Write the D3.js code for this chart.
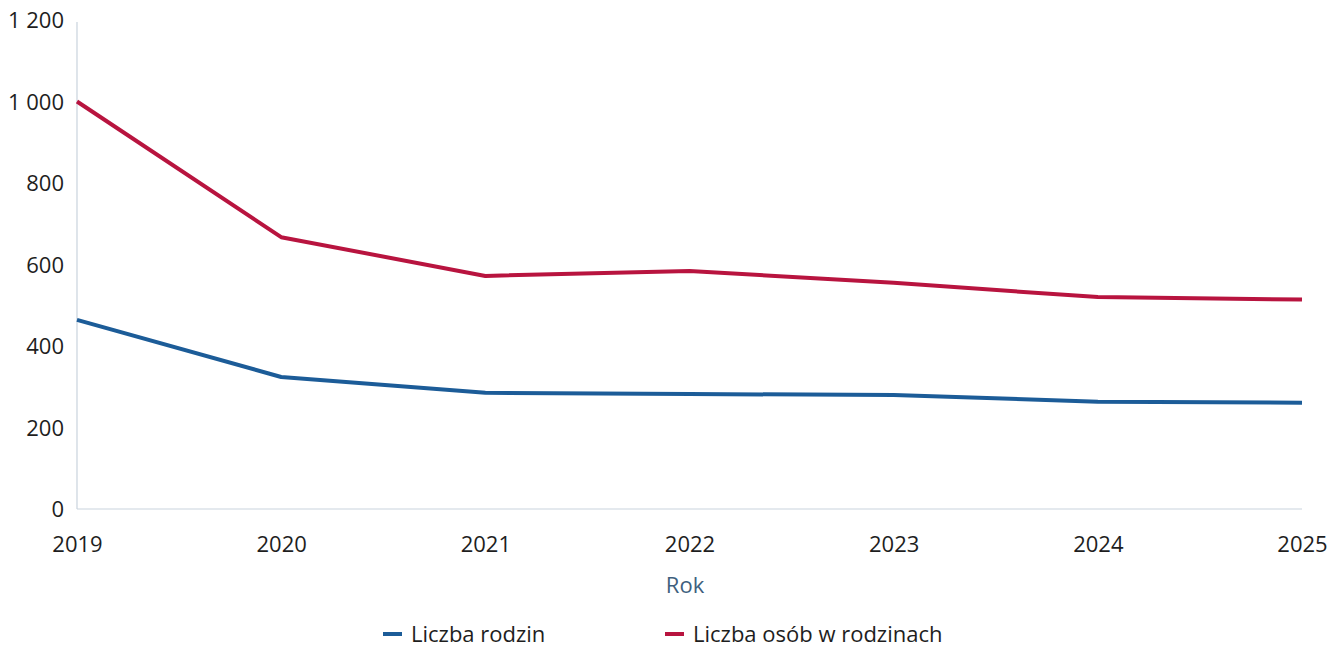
<!DOCTYPE html>
<html><head><meta charset="utf-8">
<script src="https://cdn.jsdelivr.net/npm/d3@7"></script>
<style>body{margin:0;background:#fff}svg{display:block}text{font-family:"Open Sans",sans-serif}</style>
</head><body><svg id="c" width="1339" height="651"></svg>
<script>
const years = [2019, 2020, 2021, 2022, 2023, 2024, 2025];
const rodziny = [464, 324, 285, 282, 280, 263, 261];
const osoby = [1000, 667, 572, 584, 555, 520, 514];
const yTicks = [0, 200, 400, 600, 800, 1000, 1200];
const seriesNames = ["Liczba rodzin", "Liczba osób w rodzinach"];
const colors = ["#1c5c98", "#b8143f"];

const svg = d3.select("#c");
const x = d3.scaleLinear().domain([2019, 2025]).range([77, 1302]);
const y = d3.scaleLinear().domain([0, 1200]).range([509, 20]);

// axis lines
svg.append("line").attr("x1", x(2019)).attr("x2", x(2019)).attr("y1", y(1200)+2).attr("y2", y(0))
  .attr("stroke", "#c9d3dd").attr("stroke-width", 1.2);
svg.append("line").attr("x1", x(2019)).attr("x2", x(2025)).attr("y1", y(0)).attr("y2", y(0))
  .attr("stroke", "#c9d3dd").attr("stroke-width", 1.2);

const yAxis = d3.axisLeft(y).tickValues(yTicks).tickSize(0).tickPadding(0)
  .tickFormat(v => v >= 1000 ? d3.format(",")(v).replace(",", " ") : v);
const gy = svg.append("g").attr("transform", "translate(64,0)").call(yAxis);
gy.select(".domain").remove();
gy.selectAll("text").attr("font-size", 22).attr("fill", "#1e1e1e").attr("dy", "0.35em");

const xAxis = d3.axisBottom(x).tickValues(years).tickSize(0).tickPadding(0).tickFormat(d3.format("d"));
const gx = svg.append("g").attr("transform", "translate(0,536)").call(xAxis);
gx.select(".domain").remove();
gx.selectAll("text").attr("font-size", 22).attr("fill", "#1e1e1e").attr("dy", "0.71em");

svg.append("text").attr("x", 685).attr("y", 593).attr("text-anchor", "middle")
  .attr("font-size", 22).attr("fill", "#3f5f7e").text("Rok");

const line = d3.line().x((d, i) => x(years[i])).y(d => y(d));
[rodziny, osoby].forEach((s, k) => {
  svg.append("path").datum(s).attr("d", line).attr("fill", "none")
    .attr("stroke", colors[k]).attr("stroke-width", 4).attr("stroke-linejoin", "round");
});

// legend
const leg = [{x: 383}, {x: 665}];
leg.forEach((l, k) => {
  svg.append("line").attr("x1", l.x).attr("x2", l.x + 19).attr("y1", 634).attr("y2", 634)
    .attr("stroke", colors[k]).attr("stroke-width", 4);
  svg.append("text").attr("x", l.x + 28).attr("y", 642).attr("font-size", 22).attr("fill", "#1e1e1e").text(seriesNames[k]);
});
</script></body></html>
